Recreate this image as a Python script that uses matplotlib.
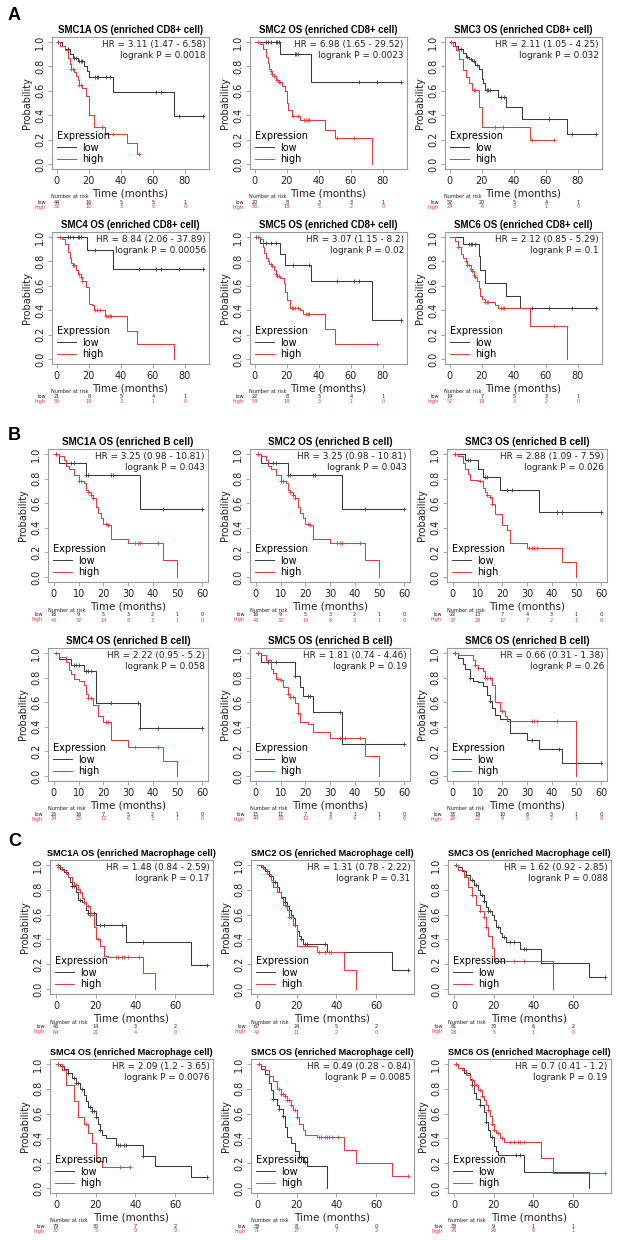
import numpy as np
import matplotlib
matplotlib.use("Agg")
import matplotlib.pyplot as plt
from matplotlib.lines import Line2D
from matplotlib import transforms

# ---------------------------------------------------------------- data
# ---- Section A : enriched CD8+ cell
A_times = [0, 20, 40, 60, 80]
A_SMC1A_low_t = [3, 5, 8, 10, 13, 17, 19, 20, 35, 73]
A_SMC1A_low_s = [0.97, 0.94, 0.90, 0.87, 0.84, 0.80, 0.76, 0.71, 0.59, 0.39]
A_SMC1A_low_c = [1, 7, 11, 12, 14, 15, 16, 24, 25, 26, 31, 33, 62, 65, 76, 91]
A_SMC1A_high_t = [2, 5, 7, 8, 9, 11, 12, 13, 14, 16, 18, 20, 23, 30, 44, 50]
A_SMC1A_high_s = [0.97, 0.93, 0.87, 0.82, 0.78, 0.75, 0.72, 0.69, 0.65, 0.62, 0.56, 0.40, 0.30, 0.25, 0.17, 0.08]
A_SMC1A_high_c = [9, 10, 14, 15, 28, 32, 35, 51]
A_SMC1A_risk_low = [44, 16, 5, 5, 1]
A_SMC1A_risk_high = [32, 10, 3, 0, 0]

A_SMC2_low_t = [16, 35]
A_SMC2_low_s = [0.90, 0.67]
A_SMC2_low_c = [7, 8, 10, 13, 14, 15, 25, 26, 27, 65, 76, 91]
A_SMC2_high_t = [3, 5, 7, 8, 9, 10, 11, 12, 13, 15, 17, 19, 20, 21, 23, 28, 44, 50, 73]
A_SMC2_high_s = [0.98, 0.94, 0.88, 0.83, 0.78, 0.76, 0.74, 0.72, 0.69, 0.67, 0.64, 0.60, 0.50, 0.44, 0.39, 0.36, 0.28, 0.21, 0.0]
A_SMC2_high_c = [2, 10, 11, 12, 14, 15, 16, 24, 27, 31, 32, 33, 34, 51, 62]
A_SMC2_risk_low = [20, 8, 3, 3, 1]
A_SMC2_risk_high = [56, 18, 5, 2, 0]

A_SMC3_low_t = [3, 5, 8, 10, 12, 14, 16, 18, 20, 21, 22, 30, 35, 45, 73]
A_SMC3_low_s = [0.97, 0.94, 0.91, 0.88, 0.86, 0.84, 0.81, 0.78, 0.70, 0.66, 0.61, 0.55, 0.47, 0.37, 0.25]
A_SMC3_low_c = [1, 7, 11, 13, 15, 17, 23, 24, 25, 32, 34, 62, 76, 91]
A_SMC3_high_t = [2, 4, 6, 8, 10, 12, 14, 18, 20, 50]
A_SMC3_high_s = [0.97, 0.93, 0.86, 0.77, 0.71, 0.66, 0.61, 0.47, 0.30, 0.20]
A_SMC3_high_c = [15, 16, 28, 33, 51, 65]
A_SMC3_risk_low = [52, 20, 5, 4, 1]
A_SMC3_risk_high = [24, 6, 3, 1, 0]

A_SMC4_low_t = [19, 35]
A_SMC4_low_s = [0.89, 0.74]
A_SMC4_low_c = [7, 8, 10, 13, 14, 15, 24, 51, 62, 65, 76, 91]
A_SMC4_high_t = [3, 5, 7, 8, 9, 10, 12, 13, 15, 16, 18, 20, 22, 23, 30, 44, 50, 73]
A_SMC4_high_s = [0.98, 0.94, 0.88, 0.83, 0.79, 0.77, 0.73, 0.70, 0.67, 0.64, 0.59, 0.45, 0.44, 0.40, 0.35, 0.23, 0.12, 0.0]
A_SMC4_high_c = [2, 10, 11, 14, 15, 16, 24, 25, 27, 31, 32, 33, 34]
A_SMC4_risk_low = [21, 8, 5, 4, 1]
A_SMC4_risk_high = [55, 18, 3, 1, 0]

A_SMC5_low_t = [3, 16, 19, 35, 73]
A_SMC5_low_s = [0.95, 0.86, 0.77, 0.64, 0.32]
A_SMC5_low_c = [1, 7, 10, 13, 24, 34, 51, 62, 65, 91]
A_SMC5_high_t = [3, 5, 6, 7, 8, 9, 11, 12, 13, 14, 16, 18, 19, 20, 22, 28, 30, 44, 50]
A_SMC5_high_s = [0.98, 0.92, 0.87, 0.83, 0.80, 0.78, 0.76, 0.73, 0.70, 0.68, 0.66, 0.62, 0.55, 0.48, 0.42, 0.40, 0.37, 0.25, 0.12]
A_SMC5_high_c = [2, 10, 11, 13, 14, 15, 23, 24, 25, 27, 32, 33, 34, 76]
A_SMC5_risk_low = [22, 8, 5, 4, 1]
A_SMC5_risk_high = [54, 18, 3, 1, 0]

A_SMC6_low_t = [8, 18, 19, 22, 35, 44]
A_SMC6_low_s = [0.94, 0.84, 0.73, 0.62, 0.52, 0.42]
A_SMC6_low_c = [12, 13, 14, 16, 51, 62, 76, 91]
A_SMC6_high_t = [3, 5, 7, 8, 10, 11, 13, 14, 15, 16, 17, 18, 19, 20, 22, 28, 30, 50, 73]
A_SMC6_high_s = [0.97, 0.92, 0.86, 0.83, 0.80, 0.77, 0.74, 0.72, 0.69, 0.67, 0.64, 0.58, 0.52, 0.49, 0.47, 0.44, 0.42, 0.27, 0.0]
A_SMC6_high_c = [5, 10, 11, 12, 13, 14, 15, 16, 22, 23, 24, 32, 33, 34, 65]
A_SMC6_risk_low = [19, 7, 5, 3, 1]
A_SMC6_risk_high = [57, 19, 3, 2, 0]

A_ends_low = [91, 91, 91, 91, 91, 91]
A_ends_high = [51, 73, 65, 73, 76, 73]
A_hr = ["HR = 3.11 (1.47 - 6.58)", "HR = 6.98 (1.65 - 29.52)", "HR = 2.11 (1.05 - 4.25)",
        "HR = 8.84 (2.06 - 37.89)", "HR = 3.07 (1.15 - 8.2)", "HR = 2.12 (0.85 - 5.29)"]
A_p = ["logrank P = 0.0018", "logrank P = 0.0023", "logrank P = 0.032",
       "logrank P = 0.00056", "logrank P = 0.02", "logrank P = 0.1"]

# ---- Section B : enriched B cell
B_times = [0, 10, 20, 30, 40, 50, 60]
B_SMC1A_low_t = [2, 13, 35]
B_SMC1A_low_s = [0.93, 0.83, 0.55]
B_SMC1A_low_c = [1, 7, 8, 13, 14, 23, 24, 44, 60]
B_SMC1A_high_t = [2, 4, 5, 6, 8, 10, 12, 13, 14, 15, 16, 17, 18, 19, 20, 22, 23, 30, 44, 50]
B_SMC1A_high_s = [0.98, 0.95, 0.90, 0.88, 0.83, 0.78, 0.76, 0.71, 0.69, 0.67, 0.64, 0.57, 0.52, 0.48, 0.43, 0.42, 0.31, 0.28, 0.14, 0.0]
B_SMC1A_high_c = [1, 10, 11, 14, 15, 16, 21, 22, 33, 34, 35, 42]
B_SMC1A_risk_low = [16, 9, 5, 3, 2, 1, 0]
B_SMC1A_risk_high = [43, 32, 14, 8, 3, 1, 0]

B_SMC2_low_t = [2, 13, 35]
B_SMC2_low_s = [0.93, 0.83, 0.55]
B_SMC2_low_c = [1, 7, 8, 13, 14, 23, 24, 44, 60]
B_SMC2_high_t = [2, 4, 5, 6, 8, 10, 12, 13, 14, 15, 16, 17, 18, 19, 20, 22, 23, 30, 44, 50]
B_SMC2_high_s = [0.98, 0.95, 0.90, 0.88, 0.83, 0.78, 0.76, 0.71, 0.69, 0.67, 0.64, 0.57, 0.52, 0.48, 0.43, 0.42, 0.31, 0.28, 0.14, 0.0]
B_SMC2_high_c = [1, 10, 11, 14, 15, 16, 21, 22, 33, 34, 35, 42]
B_SMC2_risk_low = [16, 9, 5, 3, 2, 1, 0]
B_SMC2_risk_high = [43, 32, 14, 8, 3, 1, 0]

B_SMC3_low_t = [5, 10, 12, 19, 35]
B_SMC3_low_s = [0.95, 0.88, 0.81, 0.71, 0.53]
B_SMC3_low_c = [1, 6, 7, 13, 14, 22, 24, 42, 44, 60]
B_SMC3_high_t = [2, 4, 5, 6, 7, 10, 12, 13, 14, 15, 16, 17, 20, 22, 23, 30, 44, 50]
B_SMC3_high_s = [0.98, 0.93, 0.88, 0.84, 0.79, 0.78, 0.72, 0.69, 0.67, 0.65, 0.59, 0.51, 0.42, 0.38, 0.28, 0.24, 0.12, 0.0]
B_SMC3_high_c = [1, 11, 14, 15, 16, 31, 32, 33, 34]
B_SMC3_risk_low = [22, 13, 7, 4, 3, 1, 0]
B_SMC3_risk_high = [37, 28, 12, 7, 2, 1, 0]

B_SMC4_low_t = [2, 7, 12, 17, 35]
B_SMC4_low_s = [0.95, 0.90, 0.85, 0.59, 0.39]
B_SMC4_low_c = [8, 9, 10, 13, 14, 15, 23, 34, 35, 42, 60]
B_SMC4_high_t = [2, 5, 6, 7, 8, 10, 12, 13, 14, 16, 18, 20, 23, 30, 44, 50]
B_SMC4_high_s = [0.97, 0.93, 0.86, 0.83, 0.79, 0.77, 0.74, 0.67, 0.63, 0.58, 0.49, 0.44, 0.29, 0.24, 0.12, 0.0]
B_SMC4_high_c = [1, 14, 15, 21, 22, 33, 42]
B_SMC4_risk_low = [25, 16, 7, 5, 2, 1, 0]
B_SMC4_risk_high = [34, 25, 12, 6, 3, 1, 0]

B_SMC5_low_t = [2, 16, 18, 19, 23, 35]
B_SMC5_low_s = [0.93, 0.81, 0.72, 0.65, 0.52, 0.26]
B_SMC5_low_c = [1, 5, 8, 16, 21, 22, 34, 60]
B_SMC5_high_t = [2, 4, 6, 7, 8, 10, 11, 13, 14, 16, 17, 18, 21, 23, 30, 44, 50]
B_SMC5_high_s = [0.98, 0.94, 0.87, 0.84, 0.79, 0.78, 0.72, 0.67, 0.64, 0.59, 0.51, 0.44, 0.42, 0.36, 0.31, 0.16, 0.0]
B_SMC5_high_c = [1, 9, 10, 13, 14, 15, 17, 34, 36, 42]
B_SMC5_risk_low = [15, 11, 7, 3, 1, 1, 0]
B_SMC5_risk_high = [44, 30, 12, 8, 4, 1, 0]

B_SMC6_low_t = [2, 4, 5, 7, 8, 10, 12, 14, 15, 16, 17, 19, 23, 30, 35, 44]
B_SMC6_low_s = [0.96, 0.91, 0.87, 0.80, 0.77, 0.76, 0.73, 0.66, 0.61, 0.55, 0.50, 0.46, 0.35, 0.29, 0.22, 0.11]
B_SMC6_low_c = [1, 7, 15, 22, 32, 43, 60]
B_SMC6_high_t = [2, 8, 9, 10, 12, 13, 16, 17, 19, 21, 22, 50]
B_SMC6_high_s = [0.98, 0.94, 0.90, 0.88, 0.85, 0.80, 0.74, 0.60, 0.53, 0.49, 0.45, 0.0]
B_SMC6_high_c = [1, 9, 10, 13, 14, 15, 20, 32, 33, 34, 42]
B_SMC6_risk_low = [33, 19, 10, 6, 3, 1, 0]
B_SMC6_risk_high = [26, 22, 9, 5, 2, 1, 0]

B_ends_low = [60, 60, 60, 60, 60, 60]
B_ends_high = [50, 50, 50, 50, 50, 50]
B_hr = ["HR = 3.25 (0.98 - 10.81)", "HR = 3.25 (0.98 - 10.81)", "HR = 2.88 (1.09 - 7.59)",
        "HR = 2.22 (0.95 - 5.2)", "HR = 1.81 (0.74 - 4.46)", "HR = 0.66 (0.31 - 1.38)"]
B_p = ["logrank P = 0.043", "logrank P = 0.043", "logrank P = 0.026",
       "logrank P = 0.058", "logrank P = 0.19", "logrank P = 0.26"]

# ---- Section C : enriched Macrophage cell
C_times = [0, 20, 40, 60]
C_SMC1A_low_t = [2, 4, 6, 7, 8, 10, 11, 13, 15, 16, 20, 35, 68]
C_SMC1A_low_s = [0.97, 0.94, 0.90, 0.86, 0.83, 0.78, 0.72, 0.70, 0.64, 0.61, 0.52, 0.38, 0.19]
C_SMC1A_low_c = [1, 5, 8, 9, 12, 14, 16, 17, 19, 22, 24, 33, 44, 76]
C_SMC1A_high_t = [1, 3, 5, 6, 8, 9, 11, 12, 13, 14, 15, 17, 19, 20, 22, 24, 26, 44, 50]
C_SMC1A_high_s = [0.98, 0.96, 0.93, 0.90, 0.86, 0.84, 0.81, 0.78, 0.73, 0.70, 0.67, 0.60, 0.50, 0.40, 0.35, 0.27, 0.26, 0.13, 0.0]
C_SMC1A_high_c = [1, 9, 10, 11, 12, 14, 16, 17, 21, 30, 31, 33, 34, 36, 42]
C_SMC1A_risk_low = [45, 14, 3, 2]
C_SMC1A_risk_high = [64, 21, 4, 0]

C_SMC2_low_t = [2, 4, 6, 8, 10, 11, 12, 14, 15, 16, 17, 18, 19, 20, 21, 22, 23, 35, 68]
C_SMC2_low_s = [0.98, 0.95, 0.91, 0.86, 0.82, 0.78, 0.74, 0.70, 0.67, 0.64, 0.60, 0.57, 0.52, 0.47, 0.43, 0.40, 0.36, 0.30, 0.15]
C_SMC2_low_c = [3, 8, 9, 14, 15, 19, 22, 24, 25, 34, 76]
C_SMC2_high_t = [3, 5, 7, 8, 10, 12, 13, 15, 16, 18, 20, 30, 44, 50]
C_SMC2_high_s = [0.97, 0.93, 0.88, 0.82, 0.78, 0.73, 0.68, 0.64, 0.58, 0.52, 0.35, 0.30, 0.15, 0.0]
C_SMC2_high_c = [14, 16, 17, 31, 34, 36, 37]
C_SMC2_risk_low = [67, 24, 5, 2]
C_SMC2_risk_high = [42, 11, 2, 0]

C_SMC3_low_t = [2, 4, 6, 8, 10, 12, 13, 15, 16, 17, 19, 20, 21, 23, 24, 26, 33, 44, 68]
C_SMC3_low_s = [0.98, 0.95, 0.92, 0.88, 0.84, 0.80, 0.76, 0.71, 0.66, 0.63, 0.60, 0.56, 0.50, 0.45, 0.42, 0.38, 0.32, 0.21, 0.10]
C_SMC3_low_c = [1, 6, 9, 11, 14, 15, 17, 18, 22, 25, 28, 30, 35, 36, 76]
C_SMC3_high_t = [2, 5, 7, 9, 11, 13, 15, 16, 17, 19, 20, 50]
C_SMC3_high_s = [0.96, 0.90, 0.82, 0.76, 0.68, 0.63, 0.58, 0.50, 0.43, 0.33, 0.23, 0.0]
C_SMC3_high_c = [9, 13, 15, 16, 25, 30, 35]
C_SMC3_risk_low = [81, 30, 6, 2]
C_SMC3_risk_high = [28, 5, 1, 0]

C_SMC4_low_t = [2, 4, 6, 8, 10, 12, 14, 15, 16, 18, 20, 21, 22, 23, 25, 30, 44, 50, 68]
C_SMC4_low_s = [0.98, 0.96, 0.93, 0.89, 0.85, 0.80, 0.75, 0.70, 0.65, 0.62, 0.57, 0.52, 0.47, 0.43, 0.40, 0.35, 0.26, 0.18, 0.09]
C_SMC4_low_c = [1, 6, 9, 10, 11, 13, 17, 18, 19, 20, 22, 31, 32, 34, 35, 44, 76]
C_SMC4_high_t = [3, 5, 9, 11, 14, 16, 18, 20, 23]
C_SMC4_high_s = [0.95, 0.83, 0.70, 0.57, 0.52, 0.44, 0.36, 0.22, 0.17]
C_SMC4_high_c = [15, 32, 37]
C_SMC4_risk_low = [79, 30, 7, 2]
C_SMC4_risk_high = [30, 5, 0, 0]

C_SMC5_low_t = [2, 4, 6, 7, 8, 10, 11, 13, 14, 15, 17, 19, 21, 23, 25, 35]
C_SMC5_low_s = [0.96, 0.92, 0.85, 0.79, 0.72, 0.67, 0.64, 0.58, 0.49, 0.41, 0.36, 0.30, 0.25, 0.21, 0.18, 0.0]
C_SMC5_low_c = [8, 11, 13, 21, 22, 24]
C_SMC5_high_t = [2, 4, 6, 8, 10, 12, 14, 15, 17, 18, 20, 21, 23, 24, 30, 44, 50, 68]
C_SMC5_high_s = [0.98, 0.95, 0.90, 0.86, 0.80, 0.76, 0.74, 0.71, 0.67, 0.63, 0.57, 0.52, 0.47, 0.43, 0.41, 0.31, 0.20, 0.10]
C_SMC5_high_c = [1, 11, 12, 13, 14, 15, 16, 17, 19, 20, 31, 32, 34, 35, 36, 38, 41, 76]
C_SMC5_risk_low = [38, 8, 0, 0]
C_SMC5_risk_high = [71, 27, 7, 2]

C_SMC6_low_t = [2, 5, 8, 9, 10, 11, 13, 15, 16, 17, 18, 20, 21, 22, 35, 68]
C_SMC6_low_s = [0.97, 0.93, 0.88, 0.83, 0.77, 0.72, 0.67, 0.61, 0.53, 0.47, 0.41, 0.34, 0.30, 0.27, 0.13, 0.0]
C_SMC6_low_c = [1, 9, 13, 16, 19, 31, 33]
C_SMC6_high_t = [2, 4, 6, 8, 10, 12, 14, 15, 16, 17, 18, 19, 20, 21, 23, 25, 44, 50]
C_SMC6_high_s = [0.97, 0.95, 0.91, 0.87, 0.83, 0.79, 0.74, 0.71, 0.67, 0.63, 0.58, 0.52, 0.47, 0.44, 0.40, 0.37, 0.24, 0.12]
C_SMC6_high_c = [1, 9, 10, 11, 13, 14, 17, 19, 20, 22, 24, 28, 30, 32, 33, 35, 76]
C_SMC6_risk_low = [33, 9, 1, 1]
C_SMC6_risk_high = [76, 26, 6, 1]

C_ends_low = [76, 76, 76, 76, 35, 68]
C_ends_high = [50, 50, 50, 37, 76, 76]
C_hr = ["HR = 1.48 (0.84 - 2.59)", "HR = 1.31 (0.78 - 2.22)", "HR = 1.62 (0.92 - 2.85)",
        "HR = 2.09 (1.2 - 3.65)", "HR = 0.49 (0.28 - 0.84)", "HR = 0.7 (0.41 - 1.2)"]
C_p = ["logrank P = 0.17", "logrank P = 0.31", "logrank P = 0.088",
       "logrank P = 0.0076", "logrank P = 0.0085", "logrank P = 0.19"]

genes = ["SMC1A", "SMC2", "SMC3", "SMC4", "SMC5", "SMC6"]

# ---------------------------------------------------------------- style
W, H = 618, 1240
LOW_COLOR = "#3a3a3a"
HIGH_COLOR = "#e5393c"
SPINE = "#9a9a9a"
TXT = "#222222"

fig = plt.figure(figsize=(W / 100, H / 100), dpi=100)
fig.patch.set_facecolor("white")


def px_axes(left, top, width, height):
    return fig.add_axes([left / W, 1 - (top + height) / H, width / W, height / H])


def km(ax, t, s, end, cens, color):
    xs = [0.0] + list(t)
    ys = [1.0] + list(s)
    if end > xs[-1]:
        xs.append(end)
        ys.append(ys[-1])
    ax.step(xs, ys, where="post", color=color, lw=0.75)
    tt = np.asarray(t, float)
    ss = np.asarray(s, float)
    cy = []
    for c in cens:
        i = np.searchsorted(tt, c, side="right") - 1
        cy.append(1.0 if i < 0 else ss[i])
    ax.plot(cens, cy, ls="none", marker="+", ms=3.2, mew=0.6, color=color)


def panel(box, title, tsize, low, high, hr, p, xlim, xticks, risk_times, rlow, rhigh):
    left, top, width, height = box
    ax = px_axes(left, top, width, height)
    km(ax, *low, LOW_COLOR)
    km(ax, *high, HIGH_COLOR)
    ax.set_xlim(*xlim)
    ax.set_ylim(-0.04, 1.04)
    ax.set_xticks(xticks)
    ax.set_yticks([0, 0.2, 0.4, 0.6, 0.8, 1.0])
    ax.set_yticklabels(["0.0", "0.2", "0.4", "0.6", "0.8", "1.0"], rotation=90, va="center")
    ax.tick_params(labelsize=7, length=3, width=0.6, color=SPINE, pad=2, labelcolor=TXT)
    for sp in ax.spines.values():
        sp.set_color(SPINE)
        sp.set_linewidth(0.8)
    ax.set_xlabel("Time (months)", fontsize=7.5, labelpad=2, color=TXT)
    ax.set_ylabel("Probability", fontsize=7, labelpad=2, color=TXT)
    ax.set_title(title, fontsize=tsize, fontweight="bold", family="Liberation Sans", pad=3)
    ax.text(0.98, 0.975, hr + "\n" + p, transform=ax.transAxes, ha="right", va="top",
            fontsize=6.4, linespacing=1.3, color=TXT)
    handles = [Line2D([], [], color=LOW_COLOR, lw=0.7), Line2D([], [], color=HIGH_COLOR, lw=0.7)]
    ax.legend(handles=handles, labels=["low", "high"], title="Expression", loc="lower left",
              frameon=False, fontsize=7, title_fontsize=7, handlelength=2.0, handletextpad=0.6,
              borderaxespad=0.2, labelspacing=0.15, alignment="left", borderpad=0.3)
    # number-at-risk table
    tr = transforms.blended_transform_factory(ax.transData, ax.transAxes)
    x0 = risk_times[0]
    pxu = (xlim[1] - xlim[0]) / width
    ax.text(x0 - 6 * pxu, -28 / height, "Number at risk", transform=tr, fontsize=3.6,
            ha="left", va="center", color=TXT, clip_on=False)
    ax.text(x0 - 11 * pxu, -33 / height, "low", transform=tr, fontsize=3.6,
            ha="right", va="center", color=TXT, clip_on=False)
    ax.text(x0 - 11 * pxu, -38 / height, "high", transform=tr, fontsize=3.6,
            ha="right", va="center", color=HIGH_COLOR, clip_on=False)
    for xt, a, b in zip(risk_times, rlow, rhigh):
        ax.text(xt, -33 / height, str(a), transform=tr, fontsize=3.6, ha="center",
                va="center", color=TXT, clip_on=False)
        ax.text(xt, -38 / height, str(b), transform=tr, fontsize=3.6, ha="center",
                va="center", color=HIGH_COLOR, clip_on=False)
    return ax


g = globals()

sections = [
    ("A", "CD8+", 6.9, (8, 15), [37, 232], 132, [52, 250, 445], 157, (-3, 95),
     [0, 20, 40, 60, 80], A_times, A_ends_low, A_ends_high, A_hr, A_p),
    ("B", "B", 7.1, (8, 436), [449, 648], 133, [48, 250, 447], 160, (-2.4, 62.4),
     [0, 10, 20, 30, 40, 50, 60], B_times, B_ends_low, B_ends_high, B_hr, B_p),
    ("C", "Macrophage", 6.55, (8, 842), [860, 1059], 134, [50, 251, 448], 163, (-3, 79),
     [0, 20, 40, 60], C_times, C_ends_low, C_ends_high, C_hr, C_p),
]

for (letter, cell, tsize, lpos, tops, hgt, lefts, wid, xlim, xticks, rtimes,
     ends_low, ends_high, hrs, ps) in sections:
    fig.text(lpos[0] / W, 1 - lpos[1] / H, letter, fontsize=13, fontweight="bold",
             family="Liberation Sans", va="center", ha="left")
    for k, gene in enumerate(genes):
        r, c = divmod(k, 3)
        pre = f"{letter}_{gene}_"
        low = (g[pre + "low_t"], g[pre + "low_s"], ends_low[k], g[pre + "low_c"])
        high = (g[pre + "high_t"], g[pre + "high_s"], ends_high[k], g[pre + "high_c"])
        panel((lefts[c], tops[r], wid, hgt), f"{gene} OS (enriched {cell} cell)", tsize,
              low, high, hrs[k], ps[k], xlim, xticks, rtimes,
              g[pre + "risk_low"], g[pre + "risk_high"])

fig.savefig("out.png", dpi=100, facecolor="white")
